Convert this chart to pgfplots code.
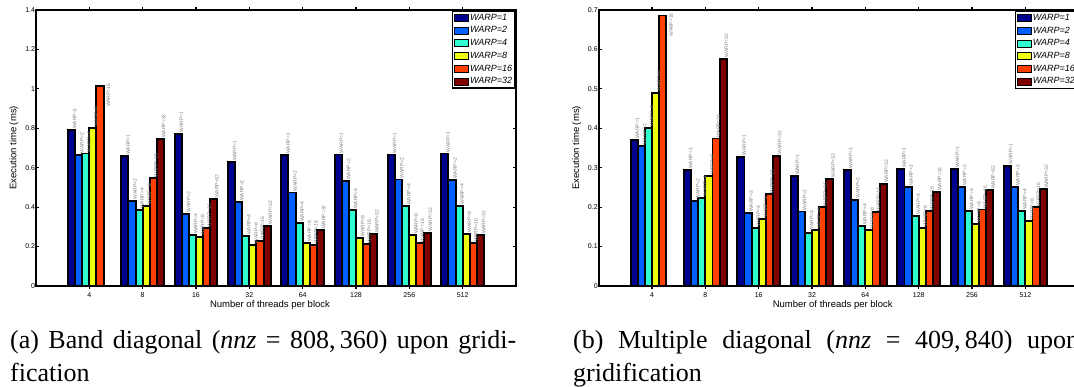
\documentclass[border=0pt]{standalone}
\usepackage{pgfplots}
\pgfplotsset{compat=1.18}
\usepackage{fontspec}
\setmainfont{Liberation Sans}
\newfontfamily\capfont{Liberation Serif}

\definecolor{w1}{rgb}{0,0,0.5625}
\definecolor{w2}{rgb}{0,0.375,1}
\definecolor{w3}{rgb}{0.1875,1,0.8125}
\definecolor{w4}{rgb}{0.9375,1,0.0625}
\definecolor{w5}{rgb}{1,0.25,0}
\definecolor{w6}{rgb}{0.5,0,0}

\pgfplotsset{
  warpaxis/.style={
    scale only axis, width=480pt, height=276pt,
    xmin=0, xmax=9, ymin=0,
    xtick={1,2,3,4,5,6,7,8},
    xticklabels={4,8,16,32,64,128,256,512},
    tick align=inside, major tick length=3pt,
    axis line style={line width=1.8pt},
    every tick/.style={black, line width=1.2pt},
    tick label style={font=\fontsize{7}{8}\selectfont},
    yticklabel style={inner sep=0.8pt},
    xticklabel style={inner sep=1pt, yshift=-2pt},
    label style={font=\fontsize{9.5}{11}\selectfont},
    xlabel={Number of threads per block},
    ylabel={Execution time (ms)},
    xlabel style={at={(axis description cs:0.4875,-0.0688)}, anchor=center},
    ylabel style={at={(axis description cs:-0.0458,0.5)}, anchor=center},
    /pgf/number format/assume math mode=true,
    ybar, bar width=0.13333,
    clip=false,
    every node near coord/.append style={rotate=90, anchor=north west,
      font=\fontsize{5}{6}\selectfont, text=black!50, inner sep=0.5pt},
    legend style={at={(1,1)}, anchor=north east, draw=black, line width=1.6pt,
      font=\fontsize{9}{10}\selectfont\itshape, inner sep=1.5pt, row sep=1.7pt,
      nodes={inner sep=1.5pt, text height=6.5pt, text depth=1.5pt},
      cells={anchor=west}},
    legend image code/.code={\draw[#1, draw=black, line width=0.4pt] (0pt,-3.5pt) rectangle (14pt,3.5pt);},
  },
  wbar/.style={draw=black, line width=1.9pt, fill=#1},
  oddlabel/.style={forget plot, draw=none, fill=none, bar shift=0.2,
    every node near coord/.append style={anchor=north east, yshift=-6pt, xshift=3pt}},
}

\begin{document}
\begin{tikzpicture}
\useasboundingbox (0pt,0pt) rectangle (1074pt,387pt);

% ---------------- (a) ----------------
\begin{axis}[warpaxis, at={(36pt,101pt)}, anchor=south west,
  ymax=1.4, ytick={0,0.2,0.4,0.6,0.8,1,1.2,1.4}]
\addplot[wbar=w1, bar shift=-0.33333, nodes near coords={WARP=1}] coordinates
  {(1,0.79) (2,0.658) (3,0.772) (4,0.627) (5,0.664) (6,0.667) (7,0.667) (8,0.672)};
\addplot[wbar=w2, bar shift=-0.2, nodes near coords={WARP=2}] coordinates
  {(1,0.665) (2,0.432) (3,0.367) (4,0.425) (5,0.474) (6,0.532) (7,0.54) (8,0.537)};
\addplot[wbar=w3, bar shift=-0.06667, nodes near coords={WARP=4}] coordinates
  {(1,0.672) (2,0.385) (3,0.257) (4,0.252) (5,0.318) (6,0.384) (7,0.405) (8,0.406)};
\addplot[wbar=w4, bar shift=0.06667, nodes near coords={WARP=8}] coordinates
  {(1,0.80) (2,0.406) (3,0.25) (4,0.21) (5,0.218) (6,0.244) (7,0.257) (8,0.266)};
\addplot[wbar=w5, bar shift=0.2] coordinates
  {(1,1.015) (2,0.547) (3,0.295) (4,0.23) (5,0.21) (6,0.213) (7,0.217) (8,0.22)};
\addplot[wbar=w6, bar shift=0.33333, nodes near coords={WARP=32}] coordinates
  {(2,0.745) (3,0.44) (4,0.305) (5,0.284) (6,0.262) (7,0.271) (8,0.257)};
\addplot[forget plot, draw=none, fill=none, bar shift=0.2, nodes near coords={WARP=16}] coordinates
  {(2,0.547) (3,0.295) (4,0.23) (5,0.21) (6,0.213) (7,0.217) (8,0.22)};
\addplot[oddlabel, nodes near coords={WARP=16}] coordinates {(1,1.015)};
\legend{WARP=1,WARP=2,WARP=4,WARP=8,WARP=16,WARP=32}
\end{axis}

% ---------------- (b) ----------------
\begin{axis}[warpaxis, at={(598.7pt,101pt)}, anchor=south west,
  ymax=0.7, ytick={0,0.1,0.2,0.3,0.4,0.5,0.6,0.7}]
\addplot[wbar=w1, bar shift=-0.33333, nodes near coords={WARP=1}] coordinates
  {(1,0.37) (2,0.294) (3,0.328) (4,0.278) (5,0.295) (6,0.296) (7,0.297) (8,0.305)};
\addplot[wbar=w2, bar shift=-0.2, nodes near coords={WARP=2}] coordinates
  {(1,0.355) (2,0.216) (3,0.185) (4,0.189) (5,0.219) (6,0.251) (7,0.251) (8,0.251)};
\addplot[wbar=w3, bar shift=-0.06667, nodes near coords={WARP=4}] coordinates
  {(1,0.401) (2,0.224) (3,0.148) (4,0.135) (5,0.152) (6,0.178) (7,0.19) (8,0.19)};
\addplot[wbar=w4, bar shift=0.06667, nodes near coords={WARP=8}] coordinates
  {(1,0.49) (2,0.278) (3,0.17) (4,0.142) (5,0.143) (6,0.147) (7,0.157) (8,0.165)};
\addplot[wbar=w5, bar shift=0.2] coordinates
  {(1,0.686) (2,0.374) (3,0.234) (4,0.2) (5,0.188) (6,0.19) (7,0.194) (8,0.2)};
\addplot[wbar=w6, bar shift=0.33333, nodes near coords={WARP=32}] coordinates
  {(2,0.576) (3,0.33) (4,0.272) (5,0.258) (6,0.238) (7,0.243) (8,0.245)};
\addplot[forget plot, draw=none, fill=none, bar shift=0.2, nodes near coords={WARP=16}] coordinates
  {(2,0.374) (3,0.234) (4,0.2) (5,0.188) (6,0.19) (7,0.194) (8,0.2)};
\addplot[oddlabel, nodes near coords={WARP=16}] coordinates {(1,0.686)};
\legend{WARP=1,WARP=2,WARP=4,WARP=8,WARP=16,WARP=32}
\end{axis}

% ---------------- captions ----------------
\node[anchor=base west, inner sep=0pt, font=\capfont\fontsize{26}{33}\selectfont] at (10pt,38pt)
  {\makebox[506pt][s]{(a) Band diagonal (\textit{nnz} = 808,\,360) upon gridi-}};
\node[anchor=base west, inner sep=0pt, font=\capfont\fontsize{26}{33}\selectfont] at (10pt,5pt)
  {fication};
\node[anchor=base west, inner sep=0pt, font=\capfont\fontsize{26}{33}\selectfont] at (573pt,38pt)
  {\makebox[506pt][s]{(b) Multiple diagonal (\textit{nnz} = 409,\,840) upon}};
\node[anchor=base west, inner sep=0pt, font=\capfont\fontsize{26}{33}\selectfont] at (573pt,5pt)
  {gridification};
\end{tikzpicture}
\end{document}
